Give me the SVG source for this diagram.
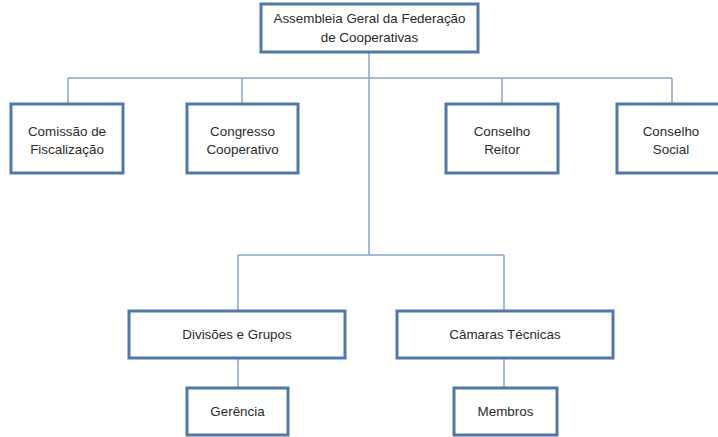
<svg xmlns="http://www.w3.org/2000/svg" width="718" height="437" viewBox="0 0 718 437">
<style>
.box{fill:#ffffff;stroke:#4f78a8;stroke-width:3}
.ln{fill:none;stroke:#88a4c6;stroke-width:1.5}
text{font-family:"Liberation Sans",Arial,sans-serif;font-size:13.4px;fill:#2b2b2b;text-anchor:middle}
</style>
<rect width="718" height="437" fill="#ffffff"/>
<g id="connectors">
<path class="ln" d="M369,52 V255"/>
<path class="ln" d="M68,78 H672"/>
<path class="ln" d="M68,78 V104 M242,78 V104 M502,78 V104 M672,78 V104"/>
<path class="ln" d="M238,255 H504 M238,255 V311 M504,255 V311"/>
<path class="ln" d="M238,358 V388 M504,358 V388"/>
</g>
<g id="assembleia">
<rect class="box" x="261" y="4" width="217" height="48"/>
<text x="369.5" y="23">Assembleia Geral da Federação</text>
<text x="369.5" y="42">de Cooperativas</text>
</g>
<g id="comissao">
<rect class="box" x="11" y="104" width="112" height="69"/>
<text x="67" y="136">Comissão de</text>
<text x="67" y="154">Fiscalização</text>
</g>
<g id="congresso">
<rect class="box" x="187" y="104" width="111" height="69"/>
<text x="242.5" y="136">Congresso</text>
<text x="242.5" y="154">Cooperativo</text>
</g>
<g id="reitor">
<rect class="box" x="446" y="104" width="112" height="69"/>
<text x="502" y="136">Conselho</text>
<text x="502" y="154">Reitor</text>
</g>
<g id="social">
<rect class="box" x="617" y="104" width="111" height="69"/>
<text x="671" y="136">Conselho</text>
<text x="671" y="154">Social</text>
</g>
<g id="divisoes">
<rect class="box" x="129" y="311" width="216" height="47"/>
<text x="237" y="339">Divisões e Grupos</text>
</g>
<g id="camaras">
<rect class="box" x="397" y="311" width="216" height="47"/>
<text x="505" y="339">Câmaras Técnicas</text>
</g>
<g id="gerencia">
<rect class="box" x="187" y="388" width="101" height="47"/>
<text x="237.5" y="416">Gerência</text>
</g>
<g id="membros">
<rect class="box" x="454" y="388" width="103" height="47"/>
<text x="505.5" y="416">Membros</text>
</g>
</svg>
